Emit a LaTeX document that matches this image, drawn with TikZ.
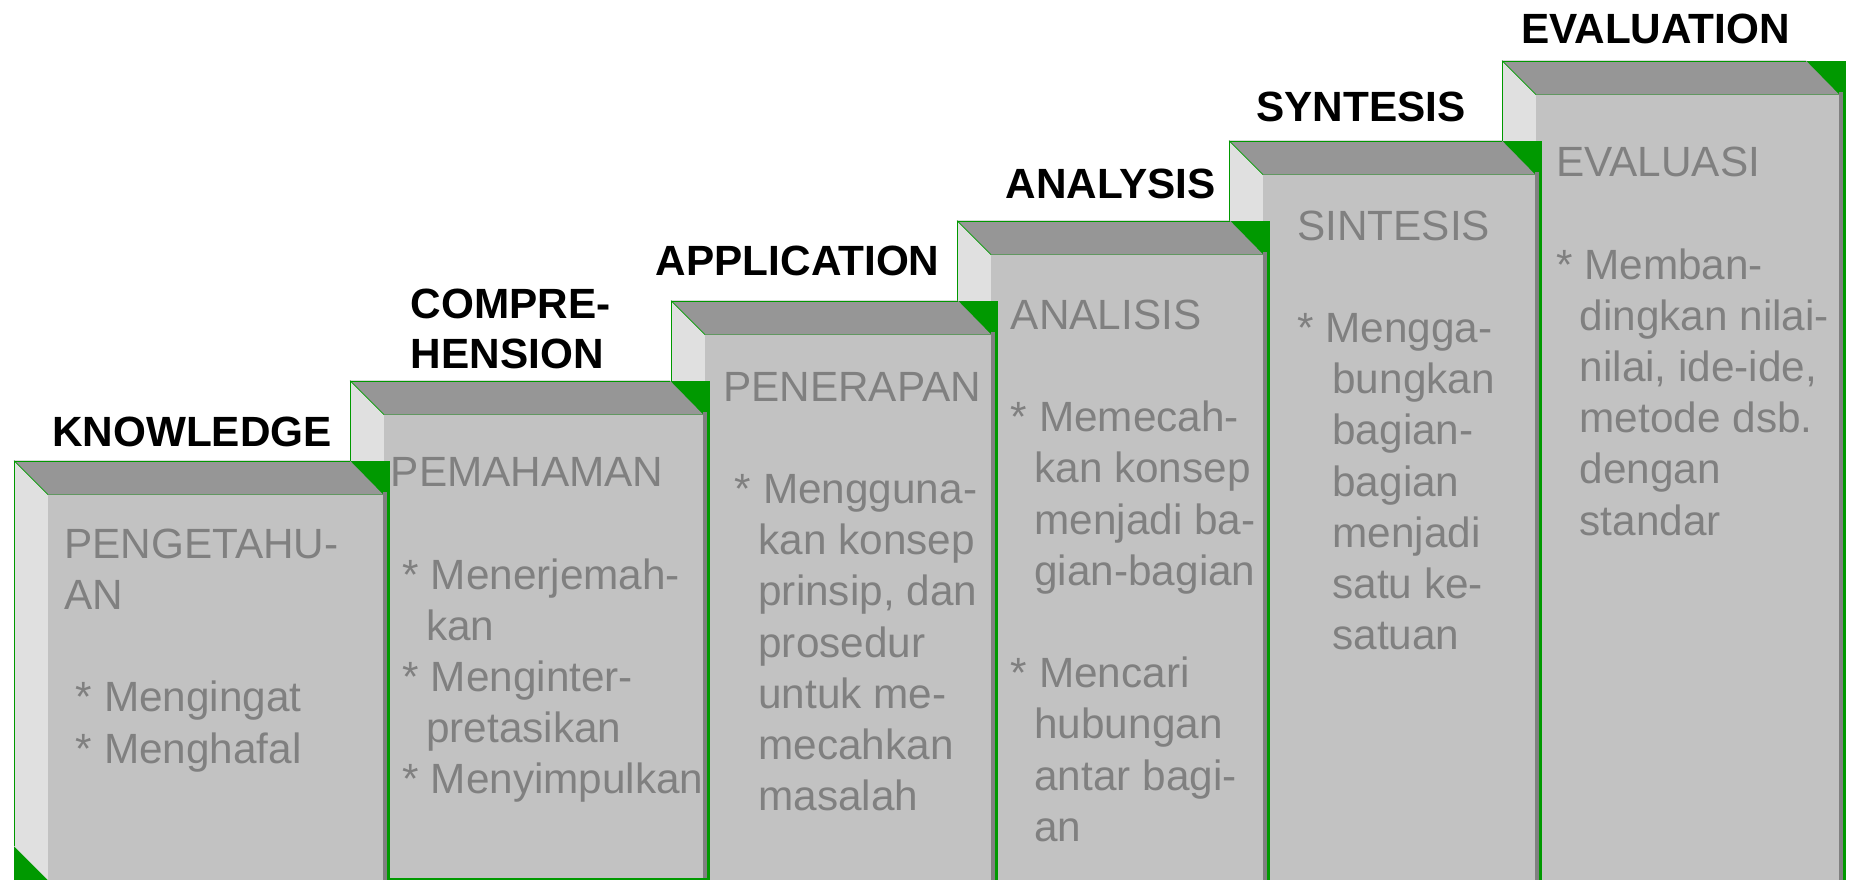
\documentclass[tikz,border=0pt]{standalone}
\usepackage{fontspec}
\setmainfont{Liberation Sans}

\definecolor{bevelgreen}{HTML}{009900}
\definecolor{topband}{HTML}{969696}
\definecolor{sideband}{HTML}{E0E0E0}
\definecolor{faceclr}{HTML}{C2C2C2}
\definecolor{edgeclr}{HTML}{808080}
\definecolor{txtgray}{HTML}{808080}

% horizontal gap of #1 interword spaces (kept at line start)
\newcommand\gap[1]{\hspace*{#1\fontdimen2\font}}

% one bevelled step: #1 left, #2 top, #3 right, #4 bottom of the face
\newcommand\bevelstep[4]{%
  \fill[bevelgreen] (#1,#2) rectangle (#3,880);
  \fill[topband] (#1,#2) -- (#3-40,#2) -- (#3-6.7,#2+34) -- (#1+34,#2+34) -- cycle;
  \fill[sideband] (#1,#2) -- (#1+34,#2+34) -- (#1+34,#4) -- (#1,#4-34) -- cycle;
  \fill[faceclr] (#1+34,#2+34) rectangle (#3-6.7,#4);
  \fill[edgeclr] (#3-6.7,#2+31) rectangle (#3-3.4,#4);
  \draw[bevelgreen, line width=1] (#1+0.5,#4-34) -- (#1+0.5,#2+0.5) -- (#3-40,#2+0.5);
  \draw[bevelgreen, line width=0.7] (#1,#2) -- (#1+34,#2+34);
}

% multi-line nodes sit on the baseline of their last line
\tikzset{
  heading/.style={font=\bfseries\fontsize{42.3}{50}\selectfont, text=black,
    anchor=base west, inner sep=0, align=left},
  bodytext/.style={font=\fontsize{42.3}{51.2}\selectfont, text=txtgray,
    anchor=base west, inner sep=0, align=left},
}

\begin{document}
\begin{tikzpicture}[x=1pt, y=-1pt]
\useasboundingbox[fill=white] (0,0) rectangle (1849,880);

% steps are stacked from the highest one down, so each lower step lies on top
% EVALUATION
\bevelstep{1502}{60.7}{1846}{880}
\node[bodytext] (evaltxt) at (1556,535.1) {EVALUASI\\ \mbox{}\\
  {*} Memban-\\ \gap{2}dingkan nilai-\\ \gap{2}nilai, ide-ide,\\
  \gap{2}metode dsb.\\ \gap{2}dengan\\ \gap{2}standar};

% SYNTHESIS
\bevelstep{1229}{140.7}{1542}{880}
\node[bodytext] (syntxt) at (1297,649.6) {SINTESIS\\ \mbox{}\\
  {*} Mengga-\\ \gap{3}bungkan\\ \gap{3}bagian-\\ \gap{3}bagian\\
  \gap{3}menjadi\\ \gap{3}satu ke-\\ \gap{3}satuan};

% ANALYSIS
\bevelstep{957}{220.7}{1270}{880}
\node[bodytext] (anatxt) at (1010.7,841.3) {ANALISIS\\ \mbox{}\\
  {*} Memecah-\\ \gap{2}kan konsep\\ \gap{2}menjadi ba-\\ \gap{2}gian-bagian\\
  \mbox{}\\ {*} Mencari\\ \gap{2}hubungan\\ \gap{2}antar bagi-\\ \gap{2}an};

% APPLICATION
\bevelstep{671}{300.7}{998}{880}
\node[bodytext] (apptxt) at (723,810.6) {PENERAPAN\\ \mbox{}\\
  \gap{1}* Mengguna-\\ \gap{3}kan konsep\\ \gap{3}prinsip, dan\\ \gap{3}prosedur\\
  \gap{3}untuk me-\\ \gap{3}mecahkan\\ \gap{3}masalah};

% COMPREHENSION
\bevelstep{350}{380.7}{710}{878}
\node[bodytext] (comptxt) at (390.7,793.9) {PEMAHAMAN\\ \mbox{}\\
  \gap{1}* Menerjemah-\\ \gap{3}kan\\ \gap{1}* Menginter-\\ \gap{3}pretasikan\\
  \gap{1}* Menyimpulkan};

% KNOWLEDGE
\bevelstep{14}{460.7}{390}{880}
\node[bodytext] (knowtxt) at (64,763.1) {PENGETAHU-\\ AN\\ \mbox{}\\
  \gap{1}* Mengingat\\ \gap{1}* Menghafal};

% level titles above the steps
\node[heading] (knowledge) at (52,446.7) {KNOWLEDGE};
\node[heading] (comprehension) at (410.7,368.3) {COMPRE-\\ HENSION};
\node[heading] (application) at (655.7,275) {APPLICATION};
\node[heading] (analysis) at (1005.7,198.3) {ANALYSIS};
\node[heading] (synthesis) at (1256,122) {SYNTESIS};
\node[heading] (evaluation) at (1521,43.3) {EVALUATION};
\end{tikzpicture}
\end{document}
